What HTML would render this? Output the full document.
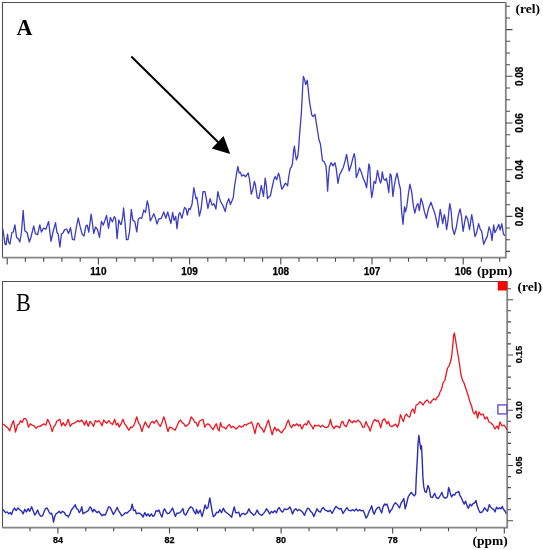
<!DOCTYPE html><html><head><meta charset="utf-8"><style>html,body{margin:0;padding:0;background:#fff;}svg{display:block;}.ser{font-family:"Liberation Serif",serif;}.san{font-family:"Liberation Sans",sans-serif;font-weight:bold;stroke:#000;stroke-width:0.25px;}</style></head><body>
<svg width="543" height="550" viewBox="0 0 543 550">
<rect width="543" height="550" fill="#fff"/>
<path d="M2.5 258 V2.5 H506" fill="none" stroke="#505050" stroke-width="1.1"/>
<path d="M505.8 2 V257.6 H2" fill="none" stroke="#858585" stroke-width="1.8"/>
<path d="M506 6.3h4 M506 18.0h4 M506 29.6h6.5 M506 41.3h4 M506 53.0h4 M506 64.7h4 M506 76.3h6.5 M506 88.0h4 M506 99.7h4 M506 111.3h4 M506 123.0h6.5 M506 134.7h4 M506 146.3h4 M506 158.0h4 M506 169.7h6.5 M506 181.4h4 M506 193.0h4 M506 204.7h4 M506 216.4h6.5 M506 228.0h4 M506 239.7h4 M506 251.4h4" stroke="#4a4a4a" stroke-width="1.1" fill="none"/>
<path d="M7.2 258v6.5 M25.4 258v3.7 M43.7 258v3.7 M61.9 258v3.7 M80.2 258v3.7 M98.4 258v6.5 M116.6 258v3.7 M134.9 258v3.7 M153.1 258v3.7 M171.4 258v3.7 M189.6 258v6.5 M207.8 258v3.7 M226.1 258v3.7 M244.3 258v3.7 M262.6 258v3.7 M280.8 258v6.5 M299.0 258v3.7 M317.3 258v3.7 M335.5 258v3.7 M353.8 258v3.7 M372.0 258v6.5 M390.2 258v3.7 M408.5 258v3.7 M426.7 258v3.7 M445.0 258v3.7 M463.2 258v6.5 M481.4 258v3.7 M499.7 258v3.7" stroke="#4a4a4a" stroke-width="1.1" fill="none"/>
<text class="san" x="98.4" y="274.7" font-size="10" text-anchor="middle">110</text>
<text class="san" x="189.6" y="274.7" font-size="10" text-anchor="middle">109</text>
<text class="san" x="280.8" y="274.7" font-size="10" text-anchor="middle">108</text>
<text class="san" x="372.0" y="274.7" font-size="10" text-anchor="middle">107</text>
<text class="san" x="463.2" y="274.7" font-size="10" text-anchor="middle">106</text>
<text class="san" transform="translate(523 76.3) rotate(-90)" x="0" y="0" font-size="10" text-anchor="middle">0.08</text>
<text class="san" transform="translate(523 123.0) rotate(-90)" x="0" y="0" font-size="10" text-anchor="middle">0.06</text>
<text class="san" transform="translate(523 169.7) rotate(-90)" x="0" y="0" font-size="10" text-anchor="middle">0.04</text>
<text class="san" transform="translate(523 216.4) rotate(-90)" x="0" y="0" font-size="10" text-anchor="middle">0.02</text>
<text class="ser" x="515.6" y="13" font-size="13.5" font-weight="bold">(rel)</text>
<text class="ser" x="477" y="274.6" font-size="13.5" font-weight="bold">(ppm)</text>
<text class="ser" transform="translate(16.5 35.2) scale(0.92 1)" x="0" y="0" font-size="24" font-weight="bold">A</text>
<line x1="131.3" y1="56.5" x2="219" y2="143" stroke="#000" stroke-width="2"/>
<polygon points="223.6,135.9 211.8,148.4 230.2,154.1" fill="#000"/>
<polyline points="2.4,228.1 3.3,232.0 5.0,244.1 6.1,244.7 7.5,234.2 8.6,242.0 9.9,244.1 11.9,232.5 13.3,232.0 14.9,224.8 16.6,237.5 18.2,238.6 19.9,242.0 21.5,232.0 23.2,210.4 23.8,219.3 24.9,230.9 27.1,232.5 29.3,242.0 30.9,237.5 33.7,225.9 35.4,233.6 37.6,234.8 39.8,224.8 41.4,232.0 43.6,228.1 45.9,229.2 48.6,221.5 51.0,241.4 53.0,232.0 55.5,222.6 56.9,232.2 58.2,234.1 59.9,247.0 61.4,234.1 63.0,232.9 64.7,229.6 66.6,229.0 68.5,233.5 70.5,227.7 72.4,239.3 74.3,240.0 76.3,227.7 78.2,218.0 80.1,226.4 82.1,234.1 84.0,236.1 85.9,225.8 87.2,225.1 88.8,232.2 91.1,214.2 92.4,223.2 93.7,233.5 95.6,227.0 97.5,229.6 99.5,237.4 101.4,221.3 103.3,225.1 106.6,215.5 108.5,228.3 110.4,217.4 112.4,221.9 114.3,216.7 115.6,218.7 117.1,238.7 118.8,220.0 120.7,224.5 121.3,224.1 122.6,217.7 123.6,208.0 124.9,221.6 126.4,239.6 128.0,239.6 129.7,230.6 131.3,209.3 132.9,220.3 134.8,221.6 136.8,231.9 138.3,219.0 140.0,217.7 141.7,218.3 143.8,210.0 145.5,212.5 147.3,200.9 148.6,206.1 150.3,220.9 152.0,217.7 153.8,213.8 155.5,218.3 157.1,224.1 158.7,219.0 161.3,218.3 163.8,211.9 165.8,218.3 167.7,211.9 169.6,219.0 170.9,223.5 172.6,212.5 174.1,220.3 175.7,216.4 177.0,228.7 178.7,214.5 179.9,212.5 181.9,218.3 184.5,207.4 186.0,208.7 187.3,215.1 188.9,208.3 190.2,209.6 192.1,203.8 193.8,187.7 195.1,194.2 196.0,198.7 196.9,197.4 197.9,204.5 199.4,216.1 201.1,209.0 203.0,191.6 205.0,191.6 206.3,198.7 207.9,208.3 210.1,198.7 212.1,205.1 214.0,203.8 215.9,209.0 217.9,191.6 219.2,197.4 220.8,201.9 223.0,205.8 225.2,211.6 226.9,203.2 228.8,198.7 230.4,204.5 232.1,200.6 233.3,197.4 234.6,185.8 235.9,178.0 236.8,172.2 237.9,166.4 239.1,172.9 240.4,172.2 241.7,176.1 243.7,174.8 245.6,176.8 246.9,174.8 248.2,172.9 249.5,179.3 251.3,194.1 252.8,189.7 254.4,181.4 255.5,185.3 257.2,197.5 258.8,198.6 260.2,191.9 261.3,185.3 262.4,190.8 263.5,196.4 265.2,178.1 266.4,185.9 267.5,198.6 268.8,196.9 270.4,195.8 272.1,187.5 273.8,179.8 275.2,176.5 276.7,179.8 278.5,173.1 279.6,176.5 280.9,185.3 282.0,189.2 283.7,186.4 285.4,183.1 286.5,184.2 287.6,185.9 288.7,177.0 290.3,168.2 291.4,167.1 292.5,163.2 293.6,151.0 294.4,146.1 295.3,153.3 296.4,159.9 297.7,156.6 298.6,148.8 299.4,136.9 300.5,123.8 301.3,113.6 302.4,93.3 302.8,84.5 303.4,76.5 304.5,79.4 305.7,84.5 307.2,80.2 308.2,88.9 309.2,99.1 310.3,106.3 311.8,115.1 313.3,116.5 315.0,114.3 316.2,122.3 317.6,131.0 318.9,139.5 320.4,144.0 321.4,151.8 322.5,160.8 324.0,161.4 326.0,165.9 326.9,177.5 327.6,191.1 328.5,177.5 329.4,167.2 331.1,162.7 333.0,165.9 335.0,162.7 336.3,169.2 338.0,183.3 339.5,175.0 341.4,171.1 343.4,167.2 345.3,160.1 346.6,154.3 347.9,162.7 349.2,171.1 351.1,165.3 353.0,157.6 354.3,153.7 355.2,159.5 356.3,177.5 358.2,172.4 359.5,167.9 361.4,172.4 363.3,178.8 365.0,182.1 366.6,187.9 367.9,173.7 368.9,164.0 369.8,167.2 370.7,186.6 371.7,197.5 373.0,190.4 374.0,181.4 375.6,183.3 377.5,170.5 379.2,178.8 380.5,183.0 381.3,180.9 382.3,171.9 383.6,179.0 385.2,180.3 386.4,178.4 387.5,184.2 388.8,192.5 390.1,173.8 391.3,175.8 392.9,196.4 394.2,186.1 395.7,178.4 397.0,173.2 398.3,179.0 399.3,184.8 400.4,188.7 401.5,210.3 402.4,218.6 403.0,224.3 404.5,206.7 405.5,211.9 406.8,206.7 408.4,193.8 409.9,184.2 411.6,191.3 413.3,205.4 414.8,213.2 416.7,205.4 418.0,203.5 419.3,210.6 421.0,198.3 422.5,202.9 424.5,211.9 426.4,218.3 428.3,209.3 430.9,202.2 432.9,208.0 434.8,213.2 436.3,219.8 437.8,227.5 438.9,219.8 440.2,209.5 441.4,215.9 442.7,223.7 444.3,214.7 445.3,218.5 446.6,229.5 447.9,221.1 448.9,210.8 449.8,203.7 451.1,210.8 452.4,227.5 454.3,234.6 456.3,227.5 458.2,215.9 460.1,208.8 461.4,215.9 463.1,231.4 464.4,223.7 465.9,215.9 467.5,218.5 469.5,229.5 471.7,214.7 473.0,222.4 475.0,236.6 476.5,233.3 478.6,223.7 480.1,228.8 481.7,231.4 483.7,244.3 485.3,240.4 487.2,236.6 489.1,226.9 490.7,231.4 492.0,240.4 493.7,225.0 494.9,232.7 496.6,229.5 498.8,224.3 500.1,230.1 501.8,223.7 503.3,233.3 504.6,235.9" fill="none" stroke="#3c3cc4" stroke-width="1.3" stroke-linejoin="round"/>
<path d="M2.5 528 V281.5 H507" fill="none" stroke="#505050" stroke-width="1.1"/>
<path d="M507.2 281 V527.6 H2" fill="none" stroke="#858585" stroke-width="1.8"/>
<path d="M507.5 288.7h3.5 M507.5 299.8h5.5 M507.5 310.8h3.5 M507.5 321.9h3.5 M507.5 332.9h3.5 M507.5 343.9h3.5 M507.5 355.0h5.5 M507.5 366.1h3.5 M507.5 377.1h3.5 M507.5 388.1h3.5 M507.5 399.2h3.5 M507.5 410.2h5.5 M507.5 421.3h3.5 M507.5 432.4h3.5 M507.5 443.4h3.5 M507.5 454.4h3.5 M507.5 465.5h5.5 M507.5 476.6h3.5 M507.5 487.6h3.5 M507.5 498.6h3.5 M507.5 509.7h3.5 M507.5 520.8h5.5" stroke="#4a4a4a" stroke-width="1.1" fill="none"/>
<path d="M30.0 528v3.3 M57.9 528v5.5 M85.8 528v3.3 M113.7 528v3.3 M141.6 528v3.3 M169.5 528v5.5 M197.4 528v3.3 M225.3 528v3.3 M253.2 528v3.3 M281.1 528v5.5 M309.0 528v3.3 M336.9 528v3.3 M364.8 528v3.3 M392.7 528v5.5 M420.6 528v3.3 M448.5 528v3.3 M476.4 528v3.3 M504.3 528v5.5" stroke="#4a4a4a" stroke-width="1.1" fill="none"/>
<text class="san" x="57.9" y="542.7" font-size="9" text-anchor="middle">84</text>
<text class="san" x="169.5" y="542.7" font-size="9" text-anchor="middle">82</text>
<text class="san" x="281.1" y="542.7" font-size="9" text-anchor="middle">80</text>
<text class="san" x="392.7" y="542.7" font-size="9" text-anchor="middle">78</text>
<text class="san" transform="translate(522 354.6) rotate(-90)" x="0" y="0" font-size="9" text-anchor="middle">0.15</text>
<text class="san" transform="translate(522 409.9) rotate(-90)" x="0" y="0" font-size="9" text-anchor="middle">0.10</text>
<text class="san" transform="translate(522 465.2) rotate(-90)" x="0" y="0" font-size="9" text-anchor="middle">0.05</text>
<text class="ser" x="517.6" y="291" font-size="13.5" font-weight="bold">(rel)</text>
<text class="ser" x="472.6" y="545" font-size="13.5" font-weight="bold">(ppm)</text>
<text class="ser" transform="translate(15.9 310.8) scale(0.89 1)" x="0" y="0" font-size="25">B</text>
<rect x="497.8" y="281.4" width="9.4" height="9.1" fill="#ff0000"/>
<rect x="497.9" y="404.9" width="9.0" height="9.0" fill="none" stroke="#6a5ed0" stroke-width="1.5"/>
<polyline points="2.3,423.8 3.9,424.5 5.8,426.4 7.7,427.7 9.7,430.9 11.6,425.1 13.5,420.6 15.5,432.2 17.4,425.1 19.3,423.8 20.6,420.6 22.2,422.6 23.8,418.7 25.8,418.7 27.1,421.3 28.4,427.1 30.3,423.8 32.2,425.1 34.2,425.8 36.1,428.4 38.0,426.4 40.0,426.4 41.9,425.1 43.8,423.8 45.8,425.1 47.7,419.3 49.6,423.2 50.9,427.1 52.2,431.6 53.9,426.4 55.4,425.1 56.7,421.3 58.0,420.6 59.9,419.3 61.6,425.8 63.2,422.6 65.1,425.8 66.5,423.8 68.2,419.3 70.2,426.4 72.1,423.8 74.0,423.2 76.0,421.9 77.9,420.6 79.8,421.9 81.5,420.0 83.0,421.9 84.6,425.1 86.3,420.6 88.2,426.4 90.1,421.3 92.1,423.8 93.6,426.4 95.3,420.6 97.2,421.9 98.8,420.6 100.5,422.6 102.1,425.8 103.7,420.0 105.2,421.9 106.9,423.2 108.8,420.6 110.8,423.2 112.7,424.5 114.6,419.3 116.3,425.1 117.9,423.2 119.1,427.1 121.1,423.8 123.0,419.3 124.6,423.8 126.6,426.4 128.8,430.3 130.7,427.1 131.9,427.7 133.9,425.1 135.2,421.9 136.7,416.8 138.4,422.6 140.1,425.1 141.9,431.6 143.5,426.4 145.2,421.9 146.8,425.1 148.7,427.7 150.6,423.2 152.2,421.3 154.2,423.2 156.4,420.0 158.4,423.8 160.3,426.4 162.2,421.9 163.8,416.8 165.5,421.9 166.7,427.1 168.0,431.6 169.7,427.1 171.5,427.7 173.2,429.0 175.1,430.3 177.1,425.8 178.7,421.9 180.5,420.0 182.2,422.6 183.9,423.8 185.4,426.4 187.4,425.1 189.3,423.2 191.2,416.8 193.2,419.3 195.1,422.6 196.3,422.6 197.6,426.4 199.5,421.3 201.4,420.0 203.0,419.3 204.7,427.1 206.3,424.5 207.9,423.8 209.8,425.1 211.5,427.7 213.0,429.7 214.6,426.4 216.3,423.8 217.9,429.0 219.2,430.9 220.5,422.6 222.1,427.1 224.0,427.1 225.9,429.0 227.9,425.8 229.5,424.5 231.1,427.7 232.6,426.4 234.3,427.1 236.0,429.0 237.5,427.7 239.5,425.8 241.2,427.1 243.0,426.4 244.6,424.5 246.3,425.1 247.9,423.8 249.8,423.2 251.5,421.9 253.0,425.8 254.0,429.7 255.0,433.5 256.2,427.7 257.5,423.2 258.8,423.8 260.1,427.1 261.9,428.4 263.9,432.2 265.8,427.1 267.1,423.2 268.4,420.0 269.7,425.1 271.0,430.3 272.2,434.8 273.5,430.3 274.8,427.1 276.5,430.9 278.0,429.0 280.0,431.6 281.7,432.9 283.2,430.3 285.1,428.4 286.8,423.2 288.4,420.0 289.9,425.1 291.6,427.7 293.3,424.5 294.8,425.8 296.5,423.8 298.4,425.8 300.0,424.5 301.9,429.0 303.8,425.1 305.4,423.8 306.7,425.1 308.3,420.6 310.0,423.8 311.6,425.8 313.1,429.0 314.8,425.1 316.7,425.8 318.7,425.1 320.6,427.1 322.5,425.1 324.5,427.1 326.4,427.7 328.3,426.4 329.6,423.2 330.4,419.5 332.1,425.9 334.0,428.5 336.0,425.9 337.9,426.6 339.8,427.9 341.5,422.1 342.8,421.4 344.3,425.3 346.3,426.6 347.9,422.7 349.2,419.5 350.8,421.4 352.3,422.7 354.0,420.8 355.9,422.1 357.9,420.1 359.5,421.4 361.1,423.4 362.6,427.2 364.3,427.2 366.0,421.4 367.5,425.3 368.8,427.2 370.1,431.1 371.7,425.9 373.3,421.4 375.0,419.5 376.6,421.4 377.9,420.1 379.1,422.7 380.7,427.9 382.4,420.8 384.3,418.8 385.6,420.8 386.9,424.0 388.4,421.4 390.1,425.9 391.9,426.7 393.8,425.4 395.7,424.1 397.4,427.3 398.9,423.5 400.4,414.6 401.7,417.8 403.4,421.6 405.0,415.9 406.6,414.0 408.1,416.5 409.7,417.1 411.4,410.8 412.9,408.9 414.5,413.3 416.1,405.0 417.8,404.4 419.9,401.8 421.6,403.1 423.1,405.0 425.0,401.8 427.2,399.9 428.9,402.5 430.5,403.1 432.0,400.6 433.9,398.7 435.6,399.9 437.1,397.4 438.7,396.1 439.9,392.3 441.6,389.0 443.0,383.0 445.0,380.0 446.4,373.0 447.6,368.0 449.0,366.0 450.4,362.0 451.6,357.0 452.6,347.0 453.6,336.0 454.4,333.0 455.6,340.0 457.0,349.0 458.4,357.0 459.6,365.0 461.0,375.0 462.4,380.0 464.0,383.0 466.0,389.0 468.0,395.0 470.0,402.0 471.6,406.0 473.0,412.0 474.4,414.0 476.0,411.0 477.6,418.0 479.0,412.0 481.0,415.0 483.0,414.0 485.0,419.0 487.0,417.0 489.0,422.0 491.0,423.0 493.0,425.0 495.0,429.0 497.0,426.0 498.4,429.0 500.0,422.0 502.0,426.0 504.0,425.0 506.0,428.0 507.0,430.0" fill="none" stroke="#f0141e" stroke-width="1.3" stroke-linejoin="round"/>
<polyline points="2.3,509.3 3.9,510.6 5.4,512.6 7.1,511.9 8.8,513.8 10.3,512.6 11.6,514.5 12.9,510.6 14.4,508.0 16.1,510.6 18.0,508.0 20.0,510.0 21.7,511.3 23.2,513.8 24.8,509.3 26.4,511.9 28.1,508.7 29.7,511.3 31.6,506.8 33.3,511.3 34.8,515.1 36.4,512.6 37.6,510.0 39.3,514.5 41.0,516.4 42.5,515.8 43.8,512.6 45.4,508.7 47.1,508.0 48.7,511.3 50.3,513.8 51.6,513.2 52.6,516.4 53.5,522.2 54.8,516.4 56.1,513.8 57.8,512.6 59.3,511.3 60.6,513.2 62.5,511.3 64.5,512.6 65.7,515.1 67.7,515.8 68.2,517.1 69.9,513.8 71.4,510.0 73.0,508.0 74.3,506.1 75.3,504.8 76.6,508.7 77.9,509.3 79.2,512.6 80.7,510.6 81.8,506.8 83.0,513.8 84.6,512.6 86.3,511.9 88.2,510.6 90.1,506.8 91.4,508.7 92.7,511.9 94.0,509.3 95.7,511.3 97.2,512.6 98.8,511.3 100.5,513.8 102.1,515.8 103.7,514.5 105.2,515.1 106.9,511.3 108.6,506.8 110.1,507.4 111.7,510.6 113.3,514.5 115.3,511.3 117.2,507.4 118.5,510.6 120.2,513.2 121.7,515.8 123.7,514.5 125.3,512.6 126.9,513.2 128.8,511.3 130.5,510.0 131.3,508.0 132.2,504.2 133.6,510.6 135.2,510.0 136.4,513.8 138.0,513.2 139.7,513.2 141.3,514.5 143.1,517.1 144.8,512.6 146.5,515.8 148.0,513.8 149.6,516.4 151.3,513.8 152.9,516.4 154.5,515.1 156.0,510.6 157.7,511.3 159.0,510.0 160.3,513.8 162.0,517.1 163.3,511.3 164.5,508.7 166.1,511.9 167.6,513.8 169.3,513.2 171.0,510.6 172.5,508.0 174.1,512.6 175.4,516.4 176.7,513.2 178.3,513.2 180.0,512.6 181.6,510.6 182.9,508.7 184.1,513.8 185.7,515.1 187.4,511.9 189.0,508.7 190.8,506.8 192.5,508.0 194.2,511.9 195.7,513.8 196.5,509.5 198.2,513.4 200.2,510.1 202.1,516.6 203.8,510.1 205.1,505.0 206.6,508.8 207.9,507.6 208.9,502.4 209.8,497.9 210.7,503.0 212.0,510.8 213.3,516.6 215.0,515.3 216.7,512.1 218.2,512.7 219.8,509.5 221.4,512.7 223.4,508.2 224.9,511.4 226.6,512.7 228.3,514.0 229.8,515.3 231.7,517.2 233.0,511.4 234.3,506.9 235.6,512.7 237.3,512.7 238.8,512.1 240.1,516.6 241.7,514.0 243.3,513.4 245.3,514.6 247.2,512.7 248.9,508.8 250.4,512.1 252.0,513.4 253.7,515.3 255.3,514.0 257.1,510.1 258.8,513.4 260.1,514.6 261.9,515.3 263.6,513.4 265.2,511.4 266.4,508.8 268.0,510.8 269.7,514.0 271.3,511.4 272.9,512.7 274.8,510.8 276.5,512.7 278.0,508.8 279.3,507.6 280.9,510.8 282.6,512.1 284.5,508.8 286.4,509.5 288.4,508.8 289.9,506.9 291.2,510.1 292.5,514.0 294.2,510.1 295.8,508.8 297.6,510.8 299.3,509.5 301.0,510.8 302.5,512.1 304.5,515.3 306.2,510.8 307.7,508.2 309.2,508.8 310.5,511.4 312.2,512.7 313.9,516.6 315.4,512.7 317.0,508.8 318.7,511.4 320.3,512.1 321.9,508.8 323.4,507.6 325.1,510.1 327.0,510.8 328.2,511.6 330.2,510.3 332.1,513.5 334.0,509.7 336.0,506.4 337.6,507.7 339.2,509.0 341.1,508.4 343.0,513.5 345.0,510.3 346.9,507.7 348.8,510.3 350.8,510.9 352.7,509.7 354.4,510.9 356.2,509.0 357.9,510.9 359.5,509.7 361.4,510.9 363.0,510.3 364.3,512.9 366.0,518.0 367.5,516.1 369.1,511.6 370.4,509.0 371.7,505.8 373.0,511.6 374.2,514.2 375.9,509.7 377.6,507.7 379.1,507.1 380.4,510.3 381.7,512.9 383.0,507.1 384.6,503.9 385.8,505.1 386.9,503.9 388.2,507.7 389.5,512.9 390.7,510.3 391.7,509.7 393.5,505.4 395.2,502.8 397.3,504.5 399.5,508.0 401.2,502.8 402.5,501.1 403.8,498.5 405.2,508.9 406.4,504.5 408.2,496.8 409.9,494.2 411.1,492.4 412.8,494.2 414.2,495.9 415.6,494.2 416.3,476.9 417.3,459.6 418.0,444.0 418.9,435.4 419.7,442.3 420.8,449.2 421.5,445.8 422.2,459.6 422.9,476.9 423.7,486.4 424.9,491.6 426.3,492.4 428.0,485.5 429.4,489.0 430.6,496.8 432.4,497.6 434.6,493.3 436.3,497.6 438.4,498.5 440.5,495.0 441.9,492.4 443.3,496.8 445.0,498.1 446.8,497.5 447.6,495.7 448.6,487.4 449.5,489.8 450.4,493.9 451.6,496.9 453.1,494.5 454.6,495.1 456.0,492.7 457.6,492.1 458.8,491.5 460.0,495.7 461.2,497.5 462.7,501.1 464.2,504.1 465.6,501.1 467.1,505.9 468.3,508.3 470.1,504.1 471.6,505.9 473.1,503.5 474.7,502.9 475.9,500.5 477.1,505.3 478.5,509.5 480.0,512.5 481.5,512.5 483.1,510.7 484.5,507.7 485.9,509.5 487.5,511.3 489.3,504.7 490.7,507.1 492.3,508.9 493.8,509.5 495.0,511.9 496.5,507.1 497.9,508.9 499.5,507.7 501.0,508.9 502.2,506.5 503.7,509.5 505.1,511.3 506.3,513.7" fill="none" stroke="#2c2cb8" stroke-width="1.4" stroke-linejoin="round"/>
</svg></body></html>
